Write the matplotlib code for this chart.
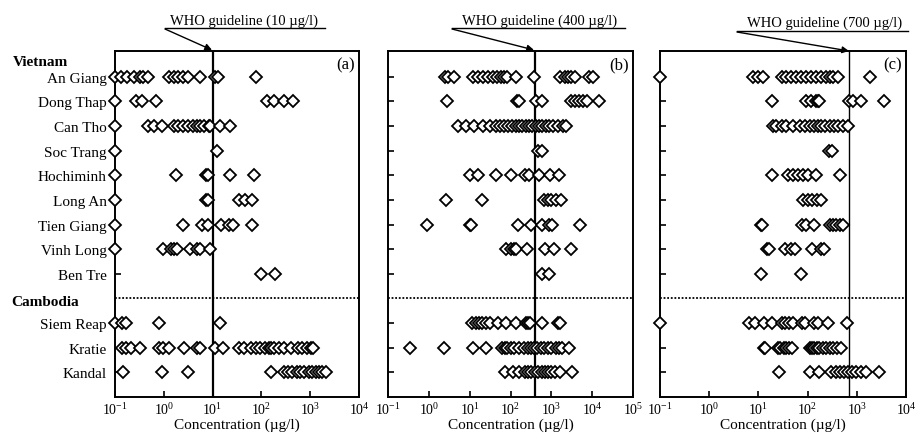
import matplotlib
matplotlib.use('Agg')
import matplotlib.pyplot as plt
from matplotlib.lines import Line2D
from matplotlib.ticker import LogLocator, NullLocator, LogFormatterMathtext

plt.rcParams['font.family'] = ['Liberation Serif', 'DejaVu Serif']
plt.rcParams['mathtext.fontset'] = 'stix'

# ---------------- data (concentrations, ug/l) ----------------
sites = ['An Giang', 'Dong Thap', 'Can Tho', 'Soc Trang', 'Hochiminh', 'Long An',
         'Tien Giang', 'Vinh Long', 'Ben Tre', 'Siem Reap', 'Kratie', 'Kandal']
site_rows = [1, 2, 3, 4, 5, 6, 7, 8, 9, 11, 12, 13]
group_labels = ['Vietnam', 'Cambodia']

# (a) arsenic, WHO 10 ug/l
as_an_giang = [0.1, 0.13, 0.18, 0.24, 0.32, 0.38, 0.48, 1.26, 1.6, 2.0, 2.5, 3.1, 5.4, 11, 13, 76]
as_dong_thap = [0.1, 0.27, 0.35, 0.69, 132, 178, 288, 447]
as_can_tho = [0.1, 0.48, 0.62, 0.91, 1.6, 2.0, 2.5, 3.2, 4.0, 4.8, 5.6, 6.8, 8.3, 8.9, 14.5, 23]
as_soc_trang = [0.1, 12.6]
as_hochiminh = [0.1, 1.8, 7.4, 7.9, 23, 69]
as_long_an = [0.1, 7.4, 7.9, 35, 47, 65]
as_tien_giang = [0.1, 2.5, 6.2, 7.9, 15, 22, 26, 65]
as_vinh_long = [0.1, 0.96, 1.4, 1.6, 1.9, 3.5, 4.8, 5.6, 8.9]
as_ben_tre = [100, 186]
as_siem_reap = [0.1, 0.14, 0.17, 0.81, 14.5]
as_kratie = [0.138, 0.17, 0.21, 0.32, 0.78, 0.98, 1.26, 2.63, 4.8, 5.6, 11.2, 16, 34, 45,
             62, 79, 95, 120, 141, 158, 178, 229, 288, 398, 562, 692, 851, 1023, 1148]
as_kandal = [0.145, 0.91, 3.2, 158, 288, 347, 427, 525, 631, 759, 933, 1096, 1288, 1514,
             1778, 2089]

# (b) manganese, WHO 400 ug/l
mn_an_giang = [2.45, 2.95, 4.2, 12, 15.8, 21, 28, 37, 48, 58, 69, 83, 135, 372, 1585, 2138,
               2570, 3090, 3715, 8318, 10470]
mn_dong_thap = [2.75, 148, 166, 427, 575, 2951, 3715, 4677, 6026, 7586, 14791]
mn_can_tho = [5.1, 8.3, 13, 21, 32, 44, 54, 68, 87, 110, 135, 162, 195, 234, 282, 339, 417,
              501, 603, 724, 871, 1096, 1445, 1950, 2344]
mn_soc_trang = [468, 603]
mn_hochiminh = [10, 15.8, 44, 100, 224, 282, 513, 912, 1549]
mn_long_an = [2.7, 20, 646, 832, 1000, 1318, 1738]
mn_tien_giang = [0.91, 10, 11, 151, 324, 575, 871, 1047, 4898]
mn_vinh_long = [79, 105, 123, 138, 251, 692, 1148, 2951]
mn_ben_tre = [603, 871]
mn_siem_reap = [11.7, 14.5, 17.4, 20.4, 25.7, 32, 49, 79, 138, 234, 263, 295, 575, 1445, 1660]
mn_kratie = [0.35, 2.3, 12, 25.7, 63, 72, 83, 100, 123, 162, 214, 269, 324, 380, 457, 550,
             661, 832, 1000, 1288, 1549, 1862, 2692]
mn_kandal = [72, 115, 166, 224, 269, 324, 389, 468, 575, 692, 832, 1000, 1202, 1585, 3236]

# (c) barium, WHO 700 ug/l
ba_an_giang = [0.1, 7.8, 9.8, 12.3, 29.5, 37, 47, 59, 74, 93, 117, 151, 191, 240, 282, 324,
               407, 1820]
ba_dong_thap = [19, 93, 117, 145, 162, 174, 692, 851, 1230, 3631]
ba_can_tho = [20, 23, 29.5, 37, 50, 69, 87, 110, 135, 162, 191, 229, 282, 339, 407, 525, 661]
ba_soc_trang = [269, 316]
ba_hochiminh = [19, 40, 50, 63, 81, 102, 151, 457]
ba_long_an = [81, 102, 123, 155, 191]
ba_tien_giang = [11.2, 12, 78, 93, 135, 282, 324, 372, 447, 525]
ba_vinh_long = [15, 16.6, 35, 47, 55, 123, 191, 219]
ba_ben_tre = [11.5, 72]
ba_siem_reap = [0.1, 6.5, 8.5, 12.9, 19, 29.5, 34, 42, 50, 78, 87, 138, 162, 257, 631]
ba_kratie = [12.9, 13.8, 24.5, 28, 33, 37, 42, 49, 110, 123, 138, 158, 174, 204, 240, 282,
             324, 389, 479]
ba_kandal = [26, 110, 170, 302, 380, 457, 537, 661, 813, 977, 1230, 1514, 2884]

guidelines = [10, 400, 700]
guide_texts = ['WHO guideline (10 \u00b5g/l)', 'WHO guideline (400 \u00b5g/l)',
               'WHO guideline (700 \u00b5g/l)']
panel_tags = ['(a)', '(b)', '(c)']
x_max = [1e4, 1e5, 1e4]

panels = [
    [as_an_giang, as_dong_thap, as_can_tho, as_soc_trang, as_hochiminh, as_long_an,
     as_tien_giang, as_vinh_long, as_ben_tre, as_siem_reap, as_kratie, as_kandal],
    [mn_an_giang, mn_dong_thap, mn_can_tho, mn_soc_trang, mn_hochiminh, mn_long_an,
     mn_tien_giang, mn_vinh_long, mn_ben_tre, mn_siem_reap, mn_kratie, mn_kandal],
    [ba_an_giang, ba_dong_thap, ba_can_tho, ba_soc_trang, ba_hochiminh, ba_long_an,
     ba_tien_giang, ba_vinh_long, ba_ben_tre, ba_siem_reap, ba_kratie, ba_kandal],
]

# ---------------- layout ----------------
W, H = 916, 435
fig = plt.figure(figsize=(W / 100, H / 100), dpi=100)

def fx(px):
    return px / W

def fy(py):
    return 1 - py / H

ax_left_px = [115, 388, 660]
ax_right_px = [359, 633, 906]
top_px, bot_px = 52, 398
guide_lw = [1.6, 1.6, 1.0]

# annotation geometry (pixels, from top-left)
text_cx = [244, 540, 825]
text_cy = [21, 21, 23]
uline = [(165, 325, 29), (452, 625, 29), (737, 908, 32)]
arrow_end = [(212, 51), (534, 51), (849, 52)]

for i, vals in enumerate(panels):
    ax = fig.add_axes([fx(ax_left_px[i]), fy(bot_px),
                       fx(ax_right_px[i] - ax_left_px[i]), (bot_px - top_px) / H])
    ax.set_xscale('log')
    ax.set_xlim(0.1, x_max[i])
    ax.set_ylim(14, -0.05)
    for row, v in zip(site_rows, vals):
        if len(v):
            ax.plot(v, [row] * len(v), linestyle='none', marker='D', ms=5.8,
                    mfc='white', mec='black', mew=1.3, clip_on=False, zorder=4)
    ax.axhline(10, color='black', lw=1.3, ls=(0, (1, 1)), zorder=2)
    ax.axvline(guidelines[i], color='black', lw=guide_lw[i], zorder=3)
    ax.xaxis.set_major_locator(LogLocator(base=10, numticks=12))
    ax.xaxis.set_minor_locator(NullLocator())
    ax.xaxis.set_major_formatter(LogFormatterMathtext())
    ax.set_yticks(site_rows)
    if i == 0:
        ax.set_yticklabels(sites, fontsize=11)
    else:
        ax.set_yticklabels([])
    ax.tick_params(axis='both', direction='in', length=4, width=1.2)
    ax.tick_params(axis='y', pad=6, labelsize=11)
    ax.tick_params(axis='x', pad=3, labelsize=10)
    for sp in ax.spines.values():
        sp.set_linewidth(1.4)
    ax.set_xlabel('Concentration (\u00b5g/l)', fontsize=11, labelpad=0)
    ax.text(0.985, 0.985, panel_tags[i], transform=ax.transAxes, ha='right', va='top',
            fontsize=12)

    # WHO guideline annotation
    fig.text(fx(text_cx[i]), fy(text_cy[i]), guide_texts[i], ha='center', va='center',
             fontsize=10.5)
    x0, x1, yu = uline[i]
    fig.add_artist(Line2D([fx(x0), fx(x1)], [fy(yu), fy(yu)], color='black', lw=1.0))
    ax.annotate('', xy=(fx(arrow_end[i][0]), fy(arrow_end[i][1])),
                xytext=(fx(x0), fy(yu + 1)), xycoords='figure fraction',
                textcoords='figure fraction', annotation_clip=False,
                arrowprops=dict(arrowstyle='-|>', color='black', lw=1.0,
                                mutation_scale=10, shrinkA=0, shrinkB=0))

fig.text(fx(13), fy(63), group_labels[0], ha='left', va='center', fontsize=11,
         fontweight='bold')
fig.text(fx(11), fy(303), group_labels[1], ha='left', va='center', fontsize=11,
         fontweight='bold')

fig.savefig('out.png', dpi=100)
